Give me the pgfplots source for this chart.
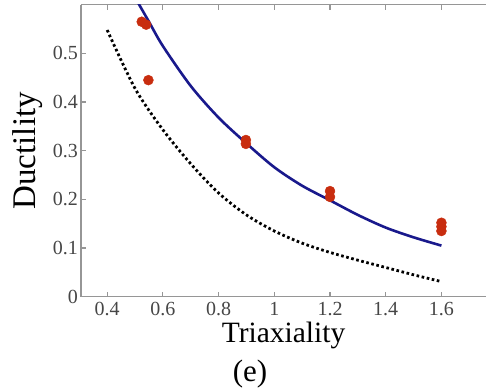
\documentclass[border=0pt]{standalone}
\usepackage{fontspec}
\setmainfont{Liberation Serif}
\usepackage{pgfplots}
\pgfplotsset{compat=1.18}
\definecolor{fitblue}{RGB}{25,25,140}
\definecolor{ptred}{RGB}{200,45,15}
\definecolor{axgray}{RGB}{150,150,150}
\definecolor{lblgray}{RGB}{70,70,70}
\begin{document}
\begin{tikzpicture}
\begin{axis}[
  scale only axis,
  width=405pt, height=292pt,
  xmin=0.306, xmax=1.76, ymin=0, ymax=0.6,
  axis x line=box, axis y line=left,
  axis line style={-, draw=axgray, line width=1.3pt},
  xtick={0.4,0.6,...,1.6}, ytick={0,0.1,...,0.5},
  xticklabels={0.4,0.6,0.8,1,1.2,1.4,1.6},
  yticklabels={0,0.1,0.2,0.3,0.4,0.5},
  tick align=inside, major tick length=5pt,
  tick style={draw=axgray, line width=1.1pt},
  /pgf/number format/assume math mode=true,
  tick label style={font=\fontsize{20}{24}\selectfont, text=lblgray},
  y tick label style={inner sep=0pt, xshift=-3pt},
  x tick label style={inner sep=0pt, yshift=-5pt},
  xlabel={Triaxiality},
  xlabel style={font=\fontsize{29.5}{34}\selectfont, at={(axis description cs:0.5,0)}, anchor=base, yshift=-46pt},
  clip=true,
]
\addplot[fitblue, line width=2.6pt, smooth] coordinates {
 (0.50,0.615) (0.55,0.565) (0.60,0.515) (0.70,0.433) (0.80,0.368) (0.90,0.315)
 (1.00,0.266) (1.10,0.228) (1.20,0.198) (1.30,0.168) (1.40,0.142) (1.50,0.122) (1.60,0.105)};
\addplot[black, line width=2.8pt, dash pattern=on 2.6pt off 2.6pt, smooth] coordinates {
 (0.40,0.548) (0.50,0.428) (0.60,0.343) (0.70,0.273) (0.80,0.213) (0.90,0.168)
 (1.00,0.135) (1.10,0.110) (1.20,0.091) (1.30,0.075) (1.40,0.060) (1.50,0.045) (1.60,0.031)};
\addplot[only marks, mark=*, mark size=5pt, ptred, mark options={draw=ptred, fill=ptred}] coordinates {
 (0.524,0.565) (0.540,0.559) (0.548,0.445)
 (0.898,0.322) (0.898,0.314)
 (1.2,0.217) (1.2,0.205)
 (1.6,0.152) (1.6,0.144) (1.6,0.135)};
\end{axis}
\node[font=\fontsize{33}{36}\selectfont, rotate=90, anchor=base] at ([xshift=-45pt]current axis.west) {Ductility};
\node[font=\fontsize{31}{34}\selectfont, anchor=base] at ([xshift=169pt,yshift=-85pt]current axis.south west) {(e)};
\pgfresetboundingbox
\path ([xshift=-81pt,yshift=-92.3pt]current axis.south west) rectangle ([xshift=407pt,yshift=296.7pt]current axis.south west);
\end{tikzpicture}
\end{document}
